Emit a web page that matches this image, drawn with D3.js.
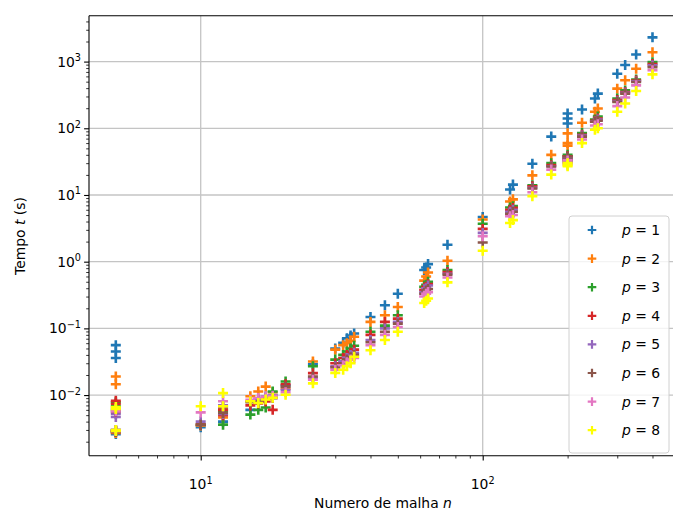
<!DOCTYPE html>
<html><head><meta charset="utf-8">
<script src="https://cdn.jsdelivr.net/npm/d3@7"></script>
<style>body{margin:0;background:#fff;} text{font-family:"DejaVu Sans",sans-serif;}</style>
</head><body>
<svg id="c" width="673" height="511"></svg>
<script>
const nValues = [5,5,5,5,10,12,12,15,16,17,18,20,25,30,32,33,34,35,40,45,50,62,63,64,75,100,125,128,150,175,200,200,200,225,250,256,300,320,350,400];
const p1 = [.056,.045,.036,.0026,.0033,.0040,.0060,.0060,.0085,.0095,.0100,.0140,.029,.050,.061,.071,.078,.084,.148,.222,.33,.75,.82,.92,1.79,4.68,12.1,14.3,29.4,75,167,140,118,191,279,331,656,890,1276,2307];
const p2 = [.019,.0145,.0029,.0027,.0035,.0046,.0062,.0096,.0113,.0134,.0110,.0125,.0318,.048,.056,.060,.065,.075,.125,.157,.209,.52,.60,.69,1.03,4.3,8.0,8.6,19.7,40,84,60,55,121,177,198,393,524,780,1380];
const p3 = [.0078,.0068,.0030,.0029,.0036,.0036,.0058,.0051,.0060,.0065,.0113,.016,.027,.034,.040,.045,.050,.055,.089,.110,.157,.42,.45,.50,.75,3.7,6.5,6.8,14,30,40,38,36,85,135,150,280,370,540,980];
const p4 = [.0082,.0074,.0029,.0028,.0036,.0050,.0060,.0070,.0075,.0080,.0060,.0145,.0213,.030,.036,.040,.043,.048,.080,.125,.140,.38,.42,.46,.70,3.1,6.0,6.4,13.5,28,38,36,34,80,130,140,265,350,520,920];
const p5 = [.0047,.0052,.0030,.0029,.0040,.0052,.0070,.0081,.0082,.0090,.0095,.0120,.018,.027,.032,.036,.040,.043,.067,.100,.125,.35,.40,.44,.66,2.7,5.6,6.0,12.8,27,36,34,32,78,126,135,255,340,505,880];
const p6 = [.0060,.0056,.0029,.0028,.0036,.0054,.0066,.0078,.0080,.0088,.0090,.0134,.019,.026,.030,.034,.037,.040,.062,.089,.118,.33,.37,.39,.64,1.94,5.2,5.6,12.5,26.8,37.8,34,31,75,125,130,249,331,494,826];
const p7 = [.0057,.0063,.0030,.0029,.0055,.0081,.0068,.0085,.0090,.0095,.0098,.011,.017,.024,.028,.031,.034,.036,.056,.080,.105,.30,.33,.35,.58,2.4,4.8,5.0,11,24,33,30,29,68,110,115,215,290,440,740];
const p8 = [.0062,.0066,.0030,.0029,.0068,.0107,.0068,.0081,.0076,.0086,.0091,.0101,.015,.0215,.024,.027,.030,.0375,.047,.067,.089,.24,.26,.28,.49,1.46,3.8,4.2,9.6,20.2,30,28,27,60,95,100,177,235,362,644];
const seriesLabels = ["1","2","3","4","5","6","7","8"];
const colors = ["#1f77b4","#ff7f0e","#2ca02c","#d62728","#9467bd","#8c564b","#e377c2","#ffff00"];
const xTicks = [10,100];
const yTicks = [0.01,0.1,1,10,100,1000];
const xTickLabels = [["10","1"],["10","2"]];
const yTickLabels = [["10","−2"],["10","−1"],["10","0"],["10","1"],["10","2"],["10","3"]];

const series = [p1,p2,p3,p4,p5,p6,p7,p8];
const svg = d3.select("#c");
const L=89, R=680, T=15.7, B=455.7;
const x = d3.scaleLog().domain([Math.pow(10,0.6039), Math.pow(10,2.6996)]).range([L,R]);
const y = d3.scaleLog().domain([Math.pow(10,-2.909), Math.pow(10,3.688)]).range([B,T]);

// grid
const g = svg.append("g");
xTicks.forEach(v=>g.append("line").attr("x1",x(v)).attr("x2",x(v)).attr("y1",T).attr("y2",B).attr("stroke","#c4c4c4").attr("stroke-width",1.3));
yTicks.forEach(v=>g.append("line").attr("x1",L).attr("x2",R).attr("y1",y(v)).attr("y2",y(v)).attr("stroke","#c4c4c4").attr("stroke-width",1.3));

// points
const plus = s => `M${-s},0H${s}M0,${-s}V${s}`;
series.forEach((arr,i)=>{
  svg.append("g").selectAll("path").data(arr.map((t,j)=>[nValues[j],t])).join("path")
    .attr("d",plus(5)).attr("transform",d=>`translate(${x(d[0])},${y(d[1])})`)
    .attr("stroke",colors[i]).attr("stroke-width",2.6).attr("fill","none");
});

// axes
const xAxis = d3.axisBottom(x).tickValues(d3.range(4,10).concat(d3.range(20,100,10)).concat(d3.range(200,700,100)).filter(v=>x(v)>=L&&x(v)<=R)).tickSize(2.8).tickFormat("");
svg.append("g").attr("transform",`translate(0,${B})`).call(xAxis).call(a=>{a.select(".domain").remove(); a.selectAll("line").attr("stroke","#000").attr("stroke-width",0.8);});
svg.append("g").attr("transform",`translate(0,${B})`).call(d3.axisBottom(x).tickValues(xTicks).tickSize(4.9).tickFormat("")).call(a=>{a.select(".domain").remove(); a.selectAll("line").attr("stroke","#000").attr("stroke-width",1.1);});
const yMinor=[];
for(let e=-3;e<=3;e++){for(let k=2;k<=9;k++){const v=k*Math.pow(10,e); if(y(v)>=T&&y(v)<=B) yMinor.push(v);}}
svg.append("g").attr("transform",`translate(${L},0)`).call(d3.axisLeft(y).tickValues(yMinor).tickSize(2.8).tickFormat("")).call(a=>{a.select(".domain").remove(); a.selectAll("line").attr("stroke","#000").attr("stroke-width",0.8);});
svg.append("g").attr("transform",`translate(${L},0)`).call(d3.axisLeft(y).tickValues(yTicks).tickSize(4.9).tickFormat("")).call(a=>{a.select(".domain").remove(); a.selectAll("line").attr("stroke","#000").attr("stroke-width",1.1);});

// spines
svg.append("line").attr("x1",L).attr("x2",L).attr("y1",T).attr("y2",B).attr("stroke","#000").attr("stroke-width",1.1);
svg.append("line").attr("x1",L).attr("x2",R).attr("y1",B).attr("y2",B).attr("stroke","#000").attr("stroke-width",1.1);
svg.append("line").attr("x1",L).attr("x2",R).attr("y1",T).attr("y2",T).attr("stroke","#000").attr("stroke-width",1.1);

// tick labels
xTicks.forEach((v,i)=>{
  const t = svg.append("text").attr("x",x(v)).attr("y",489).attr("text-anchor","middle").attr("font-size",13.9).attr("fill","#000");
  t.append("tspan").text(xTickLabels[i][0]);
  t.append("tspan").attr("dy",-5.5).attr("font-size",9.7).text(xTickLabels[i][1]);
});
yTicks.forEach((v,i)=>{
  const t = svg.append("text").attr("x",L-8).attr("y",y(v)+5).attr("text-anchor","end").attr("font-size",13.9).attr("fill","#000");
  t.append("tspan").text(yTickLabels[i][0]);
  t.append("tspan").attr("dy",-5.5).attr("font-size",9.7).text(yTickLabels[i][1]);
});

// axis labels
const xl = svg.append("text").attr("x",383).attr("y",508).attr("text-anchor","middle").attr("font-size",13.9);
xl.append("tspan").text("Numero de malha ");
xl.append("tspan").attr("font-style","italic").text("n");
const yl = svg.append("text").attr("transform","translate(25,236) rotate(-90)").attr("text-anchor","middle").attr("font-size",13.9);
yl.append("tspan").text("Tempo ");
yl.append("tspan").attr("font-style","italic").text("t");
yl.append("tspan").text(" (s)");

// legend
const lg = svg.append("g");
lg.append("rect").attr("x",569).attr("y",216).attr("width",100).attr("height",237).attr("rx",3).attr("fill","#fff").attr("fill-opacity",0.8).attr("stroke","#d0d0d0").attr("stroke-width",1);
seriesLabels.forEach((s,i)=>{
  const yy = 230 + i*28.6;
  lg.append("path").attr("d",plus(4.3)).attr("transform",`translate(592,${yy})`).attr("stroke",colors[i]).attr("stroke-width",2.2).attr("fill","none");
  const t = lg.append("text").attr("x",622).attr("y",yy+5).attr("font-size",13.9);
  t.append("tspan").attr("font-style","italic").text("p");
  t.append("tspan").text(" = " + s);
});
</script>
</body></html>
